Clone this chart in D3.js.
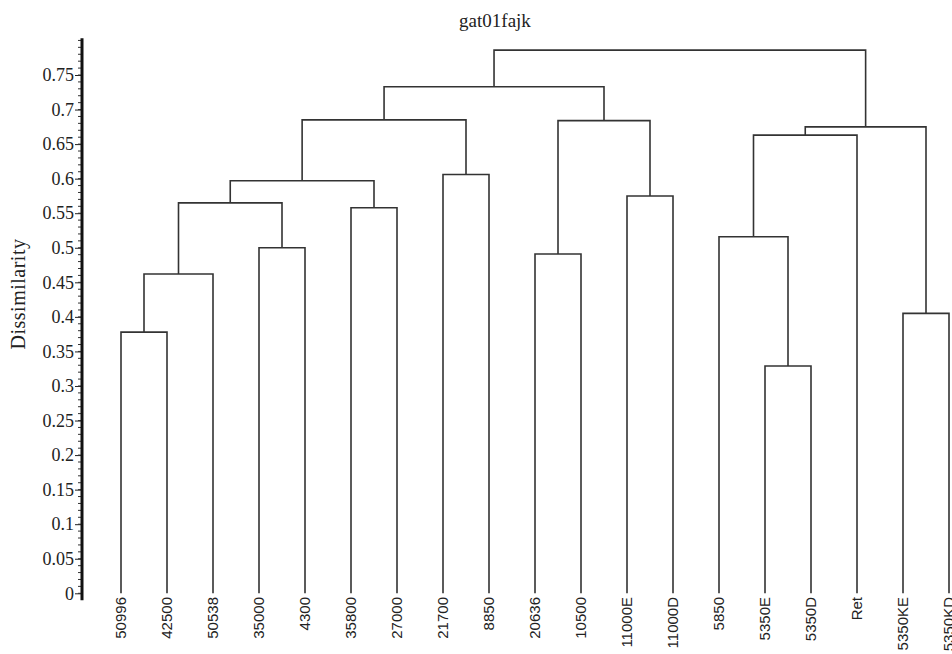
<!DOCTYPE html>
<html>
<head>
<meta charset="utf-8">
<script src="https://cdn.jsdelivr.net/npm/d3@7"></script>
<style>
  html, body { margin: 0; padding: 0; background: #fff; }
  svg { display: block; }
</style>
</head>
<body>
<svg id="chart" width="952" height="654"></svg>
<script>
// ---- data ----
const title = "gat01fajk";
const yLabel = "Dissimilarity";
const leaves = ["50996","42500","50538","35000","4300","35800","27000","21700","8850",
                "20636","10500","11000E","11000D","5850","5350E","5350D","Ret","5350KE","5350KD"];
// merges (index < 19 = leaf, index >= 19 = cluster created by merge i-19)
const mergeA      = [0, 14, 17, 19, 9, 3, 13, 5, 22, 11, 27, 7, 25, 31, 23, 29, 34, 35];
const mergeB      = [1, 15, 18, 2, 10, 4, 20, 6, 24, 12, 26, 8, 16, 21, 28, 30, 33, 32];
const mergeHeight = [0.378, 0.329, 0.405, 0.462, 0.491, 0.500, 0.516, 0.558, 0.565,
                     0.575, 0.597, 0.606, 0.663, 0.675, 0.684, 0.685, 0.733, 0.786];
const yTicks = d3.range(0, 16).map(i => +(i * 0.05).toFixed(2));
const yMinorTicks = d3.range(0, 81).map(i => +(i * 0.01).toFixed(2));

// ---- layout ----
const svg = d3.select("#chart");
const x = d3.scalePoint().domain(leaves).range([121, 949]);
const y = d3.scaleLinear().domain([0, 0.75]).range([593.3, 75]);

// build hierarchy from merges
const nodes = leaves.map(name => ({ name, height: 0 }));
mergeA.forEach((a, i) => {
  nodes.push({ name: "c" + i, height: mergeHeight[i], children: [nodes[a], nodes[mergeB[i]]] });
});
const root = d3.hierarchy(nodes[nodes.length - 1]);
root.eachAfter(d => {
  if (!d.children) d.px = x(d.data.name);
  else d.px = (d.children[0].px + d.children[1].px) / 2;
});

const g = svg.append("g");
const lineColor = "#333";
root.descendants().filter(d => d.children).forEach(d => {
  const [c0, c1] = d.children;
  const path = d3.path();
  path.moveTo(c0.px, y(c0.data.height));
  path.lineTo(c0.px, y(d.data.height));
  path.lineTo(c1.px, y(d.data.height));
  path.lineTo(c1.px, y(c1.data.height));
  g.append("path").attr("d", path.toString())
    .attr("fill", "none").attr("stroke", lineColor).attr("stroke-width", 1.6);
});

// leaf labels
svg.append("g").selectAll("text").data(leaves).join("text")
  .attr("transform", d => `translate(${x(d)},597) rotate(-90)`)
  .attr("dy", "0.35em")
  .attr("text-anchor", "end")
  .attr("font-family", "Liberation Sans, Arial, sans-serif")
  .attr("font-size", 15)
  .attr("fill", "#222")
  .text(d => d);

// y axis
const axisX = 82;
const ax = svg.append("g").attr("transform", `translate(${axisX},0)`);
ax.call(d3.axisLeft(y).tickValues(yTicks).tickSize(7).tickSizeOuter(0)
  .tickFormat(d => String(d)));
ax.select(".domain").remove();
ax.selectAll(".tick line").attr("stroke", "#222").attr("stroke-width", 1);
ax.selectAll(".tick text")
  .attr("font-family", "Liberation Serif, Times New Roman, serif")
  .attr("font-size", 18).attr("fill", "#222").attr("x", -8);
// minor ticks
ax.append("g").selectAll("line").data(yMinorTicks).join("line")
  .attr("x1", -4).attr("x2", 0)
  .attr("y1", d => y(d)).attr("y2", d => y(d))
  .attr("stroke", "#333").attr("stroke-width", 1);
// axis line
ax.append("line").attr("x1", 0).attr("x2", 0)
  .attr("y1", y(0.803)).attr("y2", y(-0.01))
  .attr("stroke", "#111").attr("stroke-width", 3);

// y label
svg.append("text")
  .attr("transform", "translate(18,294) rotate(-90)")
  .attr("dy", "0.35em")
  .attr("text-anchor", "middle")
  .attr("font-family", "Liberation Serif, Times New Roman, serif")
  .attr("font-size", 20)
  .attr("letter-spacing", 0.5)
  .attr("fill", "#222")
  .text(yLabel);

// title
svg.append("text")
  .attr("x", 495).attr("y", 27)
  .attr("text-anchor", "middle")
  .attr("font-family", "Liberation Serif, Times New Roman, serif")
  .attr("font-size", 19)
  .attr("fill", "#222")
  .text(title);
</script>
</body>
</html>
